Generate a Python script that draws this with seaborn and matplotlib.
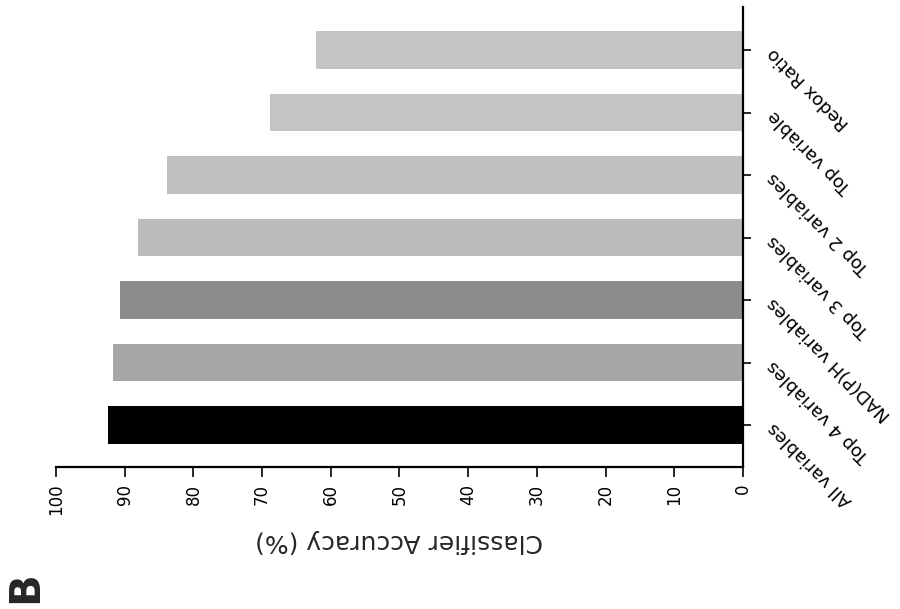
import matplotlib
matplotlib.use("Agg")
import matplotlib.pyplot as plt
import seaborn as sns
import pandas as pd

# Classifier accuracy per feature set (top of the axis to the bottom)
categories = [
    "Redox Ratio",
    "Top variable",
    "Top 2 variables",
    "Top 3 variables",
    "NAD(P)H variables",
    "Top 4 variables",
    "All variables",
]
accuracy = [62.2, 68.9, 83.8, 88.1, 90.7, 91.7, 92.4]
bar_colors = ["#c4c4c4", "#c4c4c4", "#c0c0c0", "#bcbcbc", "#8c8c8c", "#a6a6a6", "#000000"]
value_ticks = list(range(0, 101, 10))

df = pd.DataFrame({"feature_set": categories, "accuracy": accuracy})

sns.set_style("white")
plt.rcParams["font.family"] = ["DejaVu Sans"]

fig = plt.figure(figsize=(9.0, 6.09), dpi=100)
ax = fig.add_axes([56 / 900, 1 - 467 / 609, (743 - 56) / 900, (467 - 7) / 609])

sns.barplot(
    data=df, x="accuracy", y="feature_set", hue="feature_set",
    palette=dict(zip(categories, bar_colors)), order=categories,
    orient="h", width=0.6, legend=False, ax=ax, saturation=1,
    edgecolor="none",
)

# value axis runs from 100 on the left to 0 on the right
ax.set_xlim(100, 0)
ax.set_ylim(6.67, -0.69)
ax.set_xticks(value_ticks)
ax.set_xticklabels([str(v) for v in value_ticks])

for side in ("top", "left"):
    ax.spines[side].set_visible(False)
for side in ("right", "bottom"):
    ax.spines[side].set_linewidth(1.6)
    ax.spines[side].set_color("black")

ax.yaxis.tick_right()
ax.yaxis.set_label_position("right")
ax.set_ylabel("")
ax.tick_params(axis="x", direction="out", length=7, width=1.2, pad=5,
               labelsize=12, labelrotation=90, bottom=True, colors="black")
ax.tick_params(axis="y", direction="out", length=6, width=1.2, pad=14,
               labelsize=13, right=True, left=False, colors="black")

for lab in ax.get_yticklabels():
    lab.set_rotation(135)
    lab.set_rotation_mode("anchor")
    lab.set_ha("right")
    lab.set_va("center")

for lab in ax.get_xticklabels():
    lab.set_va("top")
    lab.set_ha("center")

ax.set_xlabel("Classifier Accuracy (%)", fontsize=18, rotation=180, labelpad=10)

fig.text(0.028, 0.036, "B", fontsize=30, fontweight="bold", rotation=90,
         ha="center", va="center")

fig.savefig("out.png", dpi=100)
